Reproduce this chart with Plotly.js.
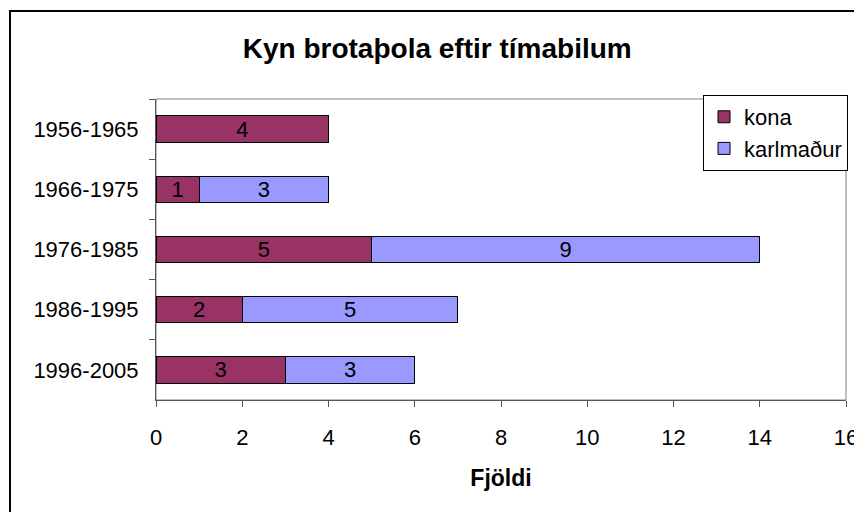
<!DOCTYPE html>
<html>
<head>
<meta charset="utf-8">
<script src="https://cdn.plot.ly/plotly-3.0.1.min.js"></script>
<style>
html,body{margin:0;padding:0;background:#fff;overflow:hidden;}
#wrap{position:relative;width:854px;height:512px;}
#chart{width:854px;height:512px;}
#frame{position:absolute;left:9px;top:10px;width:900px;height:600px;border:2px solid #000;pointer-events:none;box-sizing:border-box;}
</style>
</head>
<body>
<div id="wrap"><div id="chart"></div><div id="frame"></div></div>
<script>
var periods = ["1956-1965","1966-1975","1976-1985","1986-1995","1996-2005"];
var kona = [4,1,5,2,3];
var karlmadur = [0,3,9,5,3];
var seriesNames = ["kona","karlmaður"];
var xTicks = [0,2,4,6,8,10,12,14,16];

function lbl(arr){ return arr.map(function(v){ return v>0 ? String(v) : ""; }); }

var common = {
  type:'bar', orientation:'h', y:periods,
  textposition:'inside', insidetextanchor:'middle', textangle:0,
  textfont:{family:'Liberation Sans, Arial, sans-serif', size:22, color:'#000'},
  hoverinfo:'skip', constraintext:'none'
};
var t1 = Object.assign({}, common, {x:kona, name:seriesNames[0], text:lbl(kona), texttemplate:'%{text}',
  marker:{color:'#993366', line:{color:'#000', width:1}}});
var t2 = Object.assign({}, common, {x:karlmadur, name:seriesNames[1], text:lbl(karlmadur), texttemplate:'%{text}',
  marker:{color:'#9999FF', line:{color:'#000', width:1}}});

var layout = {
  width:854, height:512,
  margin:{l:156, r:8, t:99, b:112, pad:0, autoexpand:false},
  paper_bgcolor:'#fff', plot_bgcolor:'#fff',
  font:{family:'Liberation Sans, Arial, sans-serif', size:22, color:'#000'},
  barmode:'stack', bargap:0.56,
  title:{text:'<b>Kyn brotaþola eftir tímabilum</b>', x:0.512, xanchor:'center', y:0.906, yanchor:'middle', xref:'container', yref:'container',
    font:{size:28, color:'#000'}},
  xaxis:{range:[0,16], tickvals:xTicks, ticktext:xTicks.map(String), showgrid:false, zeroline:false,
    showline:true, linecolor:'#555', linewidth:1, ticks:'outside', ticklen:6, tickcolor:'#555',
    tickfont:{size:22}, automargin:false, ticklabeloverflow:'allow', ticklabelstandoff:12,
    title:{text:'<b>Fjöldi</b>', font:{size:23}, standoff:20}},
  yaxis:{autorange:'reversed', type:'category', showgrid:false, zeroline:false,
    showline:true, linecolor:'#555', linewidth:1, ticks:'outside', ticklen:6, tickcolor:'#555',
    tickson:'boundaries', tickfont:{size:22}, ticklabelstandoff:12, automargin:false},
  legend:{xref:'container', yref:'container', x:0.993, y:0.8145, xanchor:'right', yanchor:'top',
    bgcolor:'#fff', bordercolor:'#000', borderwidth:1,
    traceorder:'normal', font:{size:22}, itemwidth:30, tracegroupgap:0},
  shapes:[{type:'rect', xref:'paper', yref:'paper', x0:0, x1:1, y0:0, y1:1, line:{color:'#808080', width:1}, layer:'below'}],
  showlegend:true
};

Plotly.newPlot('chart', [t1,t2], layout, {displayModeBar:false, staticPlot:true});
</script>
</body>
</html>
